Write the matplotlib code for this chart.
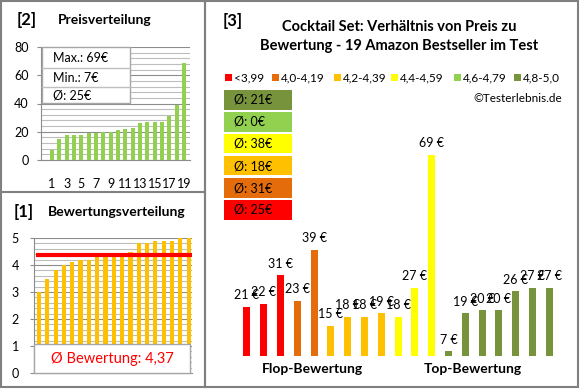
import matplotlib
matplotlib.use("Agg")
import matplotlib.pyplot as plt
from matplotlib.patches import Rectangle
from matplotlib.lines import Line2D

# ---------------- data ----------------
price_sorted = [7, 15, 18, 18, 18, 19, 19, 20, 20, 21, 22, 23, 26, 27, 27, 27, 31, 39, 69]
price_ticks = [1, 3, 5, 7, 9, 11, 13, 15, 17, 19]
price_max, price_min, price_avg = 69, 7, 25

rating_sorted = [3.0, 3.5, 3.8, 4.0, 4.1, 4.2, 4.2, 4.3, 4.3, 4.4, 4.4, 4.5,
                 4.8, 4.8, 4.9, 4.9, 4.9, 5.0, 5.0]
rating_avg = 4.37
rating_avg_label = "4,37"

prices = [21, 22, 31, 23, 39, 15, 18, 18, 19, 18, 27, 69, 7, 19, 20, 20, 26, 27, 27]
groups = [0, 0, 0, 1, 1, 2, 2, 2, 2, 3, 3, 3, 5, 5, 5, 5, 5, 5, 5]
group_labels = ["<3,99", "4,0-4,19", "4,2-4,39", "4,4-4,59", "4,6-4,79", "4,8-5,0"]
group_colors = ["#FF0000", "#E46C0A", "#FFC000", "#FFFF00", "#92D050", "#77933C"]
group_avgs = [25, 31, 18, 38, 0, 21]

FONT = "Lato"
W, H = 580, 390
fig = plt.figure(figsize=(W / 100, H / 100), dpi=100)
fig.patch.set_facecolor("white")


def fx(x):
    return x / W


def fy(y):
    return 1 - y / H


def ax_at(x0, y0, x1, y1, **kw):
    return fig.add_axes([fx(x0), fy(y1), (x1 - x0) / W, (y1 - y0) / H], **kw)


def frect(x0, y0, x1, y1, **kw):
    r = Rectangle((fx(x0), fy(y1)), (x1 - x0) / W, (y1 - y0) / H,
                  transform=fig.transFigure, **kw)
    fig.add_artist(r)
    return r


def ftext(x, y, s, **kw):
    kw.setdefault("family", FONT)
    return fig.text(fx(x), fy(y), s, **kw)


GRID_MAJ = "#8C8C8C"
GRID_MIN = "#BDBDBD"

# ---------------- panel borders ----------------
frect(1, 1, 205, 387, fill=False, edgecolor="#808080", lw=1.5)
frect(205, 1, 578, 387, fill=False, edgecolor="#808080", lw=1.5)
fig.add_artist(Line2D([fx(1), fx(205)], [fy(192), fy(192)],
                      transform=fig.transFigure, color="#808080", lw=1.5))

# ---------------- panel [2] price distribution ----------------
ftext(27, 20, "[2]", fontsize=12, fontweight="bold", ha="center", va="center")
ftext(58, 20, "Preisverteilung", fontsize=10, fontweight="bold", ha="left", va="center")

ax2 = ax_at(41, 47, 190, 160)
xs = list(range(1, len(price_sorted) + 1))
for y in range(0, 81, 4):
    ax2.axhline(y, color=GRID_MAJ if y % 20 == 0 else GRID_MIN, lw=0.8, zorder=0)
ax2.bar(xs, price_sorted, width=0.55, color="#92D050", zorder=2)
ax2.set_xlim(-0.5, 19.8)
ax2.set_ylim(0, 80)
ax2.set_yticks([0, 20, 40, 60, 80])
ax2.set_xticks(price_ticks)
ax2.set_xticklabels([str(t) for t in price_ticks])
for s in ["top", "right"]:
    ax2.spines[s].set_visible(False)
for s in ["left", "bottom"]:
    ax2.spines[s].set_color(GRID_MAJ)
ax2.tick_params(axis="y", length=3, color=GRID_MAJ, labelsize=9, pad=6)
ax2.tick_params(axis="x", length=0, labelsize=9, pad=13)
for lab in ax2.get_xticklabels() + ax2.get_yticklabels():
    lab.set_family(FONT)

# info table
frect(42, 47, 130, 103, facecolor="white", edgecolor="#A6A6A6", lw=1, zorder=5)
for yy in (68, 87):
    fig.add_artist(Line2D([fx(42), fx(130)], [fy(yy), fy(yy)],
                          transform=fig.transFigure, color="#BFBFBF", lw=1, zorder=6))
ftext(53, 58, f"Max.: {price_max}€", fontsize=9, va="center", zorder=7)
ftext(53, 78, f"Min.: {price_min}€", fontsize=9, va="center", zorder=7)
ftext(53, 95, f"Ø: {price_avg}€", fontsize=9, va="center", zorder=7)

# ---------------- panel [1] rating distribution ----------------
ftext(24, 212, "[1]", fontsize=12, fontweight="bold", ha="center", va="center")
ftext(48, 212, "Bewertungsverteilung", fontsize=10, fontweight="bold", ha="left", va="center")

ax1 = ax_at(34, 238, 192, 373)
for k in range(0, 26):
    y = k * 0.2
    ax1.axhline(y, color=GRID_MAJ if k % 5 == 0 else GRID_MIN, lw=0.8, zorder=0)
xr = list(range(len(rating_sorted)))
ax1.bar(xr, rating_sorted, width=0.5, color="#FFC000", zorder=2)
ax1.set_xlim(-0.6, 18.4)
ax1.set_ylim(0, 5)
ax1.plot([-0.35, 18.4], [rating_avg, rating_avg], color="#FF0000", lw=3, zorder=3,
         solid_capstyle="butt")
ax1.set_yticks([0, 1, 2, 3, 4, 5])
ax1.set_xticks([])
for s in ["top", "right"]:
    ax1.spines[s].set_visible(False)
for s in ["left", "bottom"]:
    ax1.spines[s].set_color(GRID_MAJ)
ax1.tick_params(axis="y", length=3, color=GRID_MAJ, labelsize=9, pad=8)
for lab in ax1.get_yticklabels():
    lab.set_family(FONT)

frect(34, 344, 190, 373, facecolor="white", edgecolor="#A6A6A6", lw=1, zorder=5)
ftext(112, 359, f"Ø Bewertung: {rating_avg_label}", fontsize=10.5, color="#FF0000",
      ha="center", va="center", zorder=7)

# ---------------- panel [3] price vs rating ----------------
ftext(233, 21, "[3]", fontsize=12, fontweight="bold", ha="center", va="center")
ftext(399, 27, "Cocktail Set: Verhältnis von Preis zu", fontsize=10.5, fontweight="bold",
      ha="center", va="center")
ftext(399, 46, "Bewertung - 19 Amazon Bestseller im Test", fontsize=10.5, fontweight="bold",
      ha="center", va="center")

sq_x = [228, 275, 337, 394, 457, 517]
for i, lab in enumerate(group_labels):
    frect(sq_x[i] - 3.5, 74, sq_x[i] + 3.5, 81, facecolor=group_colors[i], edgecolor="none")
    ftext(sq_x[i] + 6, 78, lab, fontsize=8.5, ha="left", va="center")
ftext(562, 98, "©Testerlebnis.de", fontsize=8.5, ha="right", va="center")

box_order = [5, 4, 3, 2, 1, 0]
box_tops = [90, 112, 134, 156, 178, 200]
for k, g in enumerate(box_order):
    t = box_tops[k]
    frect(224, t, 292, t + 19.5, facecolor=group_colors[g], edgecolor="none")
    ftext(234, t + 10, f"Ø: {group_avgs[g]}€", fontsize=9, ha="left", va="center")

ax3 = ax_at(230, 140, 566, 356)
px = list(range(len(prices)))
ax3.bar(px, prices, width=0.42, color=[group_colors[g] for g in groups], zorder=2)
ax3.set_xlim(-1.01, 18.99)
ax3.set_ylim(5.55, 5.55 + 216 / 3.17)
ax3.axis("off")
for x, v in zip(px, prices):
    ax3.annotate(f"{v} €", (x, v), xytext=(0, 4), textcoords="offset points",
                 ha="center", va="bottom", fontsize=9, family=FONT, annotation_clip=False)

ftext(312, 369, "Flop-Bewertung", fontsize=10, fontweight="bold", ha="center", va="center")
ftext(473, 369, "Top-Bewertung", fontsize=10, fontweight="bold", ha="center", va="center")

fig.savefig("out.png", dpi=100, facecolor="white")
